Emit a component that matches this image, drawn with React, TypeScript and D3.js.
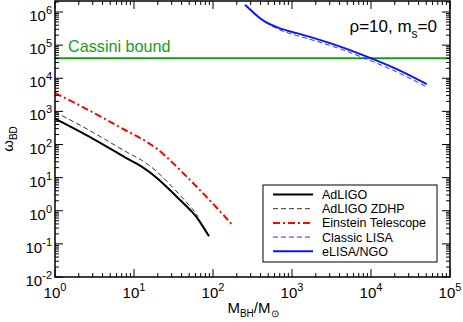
import React from 'react';
import * as d3 from 'd3';

// values: [M_BH / M_sun, omega_BD]
const adLigo: [number, number][] = [
  [1, 600], [3, 150], [7.7, 41], [12.5, 21.5], [20, 9.3], [33, 3.0], [54, 0.94], [68, 0.47], [89, 0.17],
];
const adLigoZdhp: [number, number][] = [
  [1, 960], [3, 235], [7.7, 63], [12.5, 33.5], [20, 14.3], [33, 4.3], [54, 1.19], [65, 0.66],
];
const einsteinTelescope: [number, number][] = [
  [1, 3600], [3, 940], [7.7, 274], [12.5, 148], [20, 71], [33, 24], [54, 7.5], [87, 2.3], [142, 0.66], [175, 0.37],
];
const classicLisa: [number, number][] = [
  [455, 4.9e5], [705, 2.87e5], [1146, 1.95e5], [3027, 9.8e4], [7925, 4.2e4], [21150, 1.55e4], [50700, 5450],
];
const eLisa: [number, number][] = [
  [254, 1.65e6], [340, 8.7e5], [455, 5.1e5], [705, 3.2e5], [1146, 2.3e5], [3027, 1.15e5], [7925, 5.0e4], [21150, 1.89e4], [50700, 6650],
];
const cassiniBound = 40000;

const xMajor = [0, 1, 2, 3, 4, 5];
const yMajor = [-2, -1, 0, 1, 2, 3, 4, 5, 6];

const series = [
  { name: 'AdLIGO', data: adLigo, color: '#000', width: 2, dash: null },
  { name: 'AdLIGO ZDHP', data: adLigoZdhp, color: '#333', width: 1, dash: '5,3' },
  { name: 'Einstein Telescope', data: einsteinTelescope, color: '#ff0000', width: 2, dash: '7,3,2,3' },
  { name: 'Classic LISA', data: classicLisa, color: '#2233ff', width: 1, dash: '5,3' },
  { name: 'eLISA/NGO', data: eLisa, color: '#0a14ff', width: 2, dash: null },
];

export default function App() {
  const left = 55, right = 450, top = 1, bottom = 277;
  const x = d3.scaleLog().domain([1, 1e5]).range([left, right]);
  const y = d3.scaleLog().domain([1e-2, 1e6]).range([bottom, 12]);

  const line = d3.line<[number, number]>()
    .x(d => x(d[0]))
    .y(d => y(d[1]))
    .curve(d3.curveNatural);

  // minor ticks 2..9 of every decade
  const xMinor: number[] = [];
  for (let e = 0; e < 5; e++) for (let k = 2; k < 10; k++) xMinor.push(k * Math.pow(10, e));
  const yMinor: number[] = [];
  for (let e = -2; e < 7; e++) for (let k = 2; k < 10; k++) {
    const v = k * Math.pow(10, e);
    if (y(v) > top + 1) yMinor.push(v);
  }

  const font = 'Liberation Sans, Arial, Helvetica, sans-serif';
  const legendY = (i: number) => 194.5 + i * 14.2;

  return (
    <svg width={463} height={322} style={{ position: 'absolute', left: 0, top: 0, background: '#fff' }}
      fontFamily={font}>
      {/* cassini bound */}
      <line x1={left} x2={right} y1={y(cassiniBound)} y2={y(cassiniBound)} stroke="#1a9a1a" strokeWidth={2} />
      <text x={68} y={52} fontSize={16.2} fill="#1a9a1a">Cassini bound</text>

      {series.map(s => (
        <path key={s.name} d={line(s.data) || ''} fill="none" stroke={s.color}
          strokeWidth={s.width} strokeDasharray={s.dash || undefined} />
      ))}

      {/* ticks */}
      <g stroke="#000" strokeWidth={1}>
        {xMajor.map(e => {
          const px = x(Math.pow(10, e));
          return (
            <g key={'xm' + e}>
              <line x1={px} x2={px} y1={bottom} y2={bottom - 8} />
              <line x1={px} x2={px} y1={top} y2={top + 8} />
            </g>
          );
        })}
        {xMinor.map(v => (
          <g key={'xn' + v}>
            <line x1={x(v)} x2={x(v)} y1={bottom} y2={bottom - 4} />
            <line x1={x(v)} x2={x(v)} y1={top} y2={top + 4} />
          </g>
        ))}
        {yMajor.map(e => {
          const py = y(Math.pow(10, e));
          return (
            <g key={'ym' + e}>
              <line x1={left} x2={left + 8} y1={py} y2={py} />
              <line x1={right} x2={right - 8} y1={py} y2={py} />
            </g>
          );
        })}
        {yMinor.map(v => (
          <g key={'yn' + v}>
            <line x1={left} x2={left + 4} y1={y(v)} y2={y(v)} />
            <line x1={right} x2={right - 4} y1={y(v)} y2={y(v)} />
          </g>
        ))}
      </g>
      <rect x={left} y={top} width={right - left} height={bottom - top} fill="none" stroke="#000" strokeWidth={1.5} />

      {/* tick labels */}
      {xMajor.map(e => (
        <text key={'xl' + e} x={x(Math.pow(10, e))} y={298} textAnchor="middle" fontSize={15}>
          10<tspan dy={-7} fontSize={11}>{e}</tspan>
        </text>
      ))}
      {yMajor.map(e => (
        <text key={'yl' + e} x={52} y={y(Math.pow(10, e)) + 9} textAnchor="end" fontSize={15}>
          10<tspan dy={-7} fontSize={11}>{e}</tspan>
        </text>
      ))}

      {/* axis titles */}
      <text transform={`translate(13,${(top + bottom) / 2}) rotate(-90)`} textAnchor="middle" fontSize={15}>
        ω<tspan dy={4} fontSize={10}>BD</tspan>
      </text>
      <text x={253} y={313} textAnchor="middle" fontSize={15}>
        M<tspan dy={4} fontSize={10}>BH</tspan><tspan dy={-4}>/M</tspan><tspan dy={4} fontSize={10}>⊙</tspan>
      </text>

      {/* annotation */}
      <text x={437} y={32} textAnchor="end" fontSize={17}>
        ρ=10, m<tspan dy={6} fontSize={12}>s</tspan><tspan dy={-6}>=0</tspan>
      </text>

      {/* legend */}
      <rect x={263} y={185} width={174} height={77} fill="#fff" stroke="#000" strokeWidth={1} />
      {series.map((s, i) => (
        <g key={'lg' + s.name}>
          <line x1={273} x2={313} y1={legendY(i)} y2={legendY(i)} stroke={s.color}
            strokeWidth={s.width} strokeDasharray={s.dash || undefined} />
          <text x={322} y={legendY(i) + 4.5} fontSize={12.5}>{s.name}</text>
        </g>
      ))}
    </svg>
  );
}
